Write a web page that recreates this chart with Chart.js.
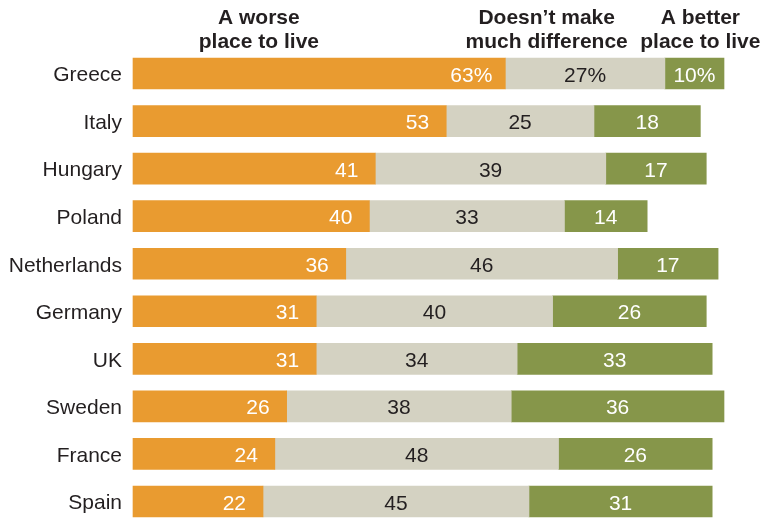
<!DOCTYPE html>
<html>
<head>
<meta charset="utf-8">
<script src="https://cdn.jsdelivr.net/npm/chart.js@4.4.1/dist/chart.umd.min.js"></script>
<style>
  body { margin: 0; background: #fff; }
  #wrap { width: 763px; height: 518px; }
</style>
</head>
<body>
<div id="wrap"><canvas id="grafico" width="763" height="518"></canvas></div>
<script>
// datos del grafico
const paises = ['Greece', 'Italy', 'Hungary', 'Poland', 'Netherlands', 'Germany', 'UK', 'Sweden', 'France', 'Spain'];
const peor = [63, 53, 41, 40, 36, 31, 31, 26, 24, 22];
const igual = [27, 25, 39, 33, 46, 40, 34, 38, 48, 45];
const mejor = [10, 18, 17, 14, 17, 26, 33, 36, 26, 31];

// encabezados de columna (lineas y posicion en la escala x)
const encabezados = [
    ['A worse', 'place to live'],
    ['Doesn\u2019t make', 'much difference'],
    ['A better', 'place to live']
];
const posEncabezados = [21.3, 70, 96];

const FUENTE = '"Liberation Sans", Arial, Helvetica, sans-serif';

// Etiquetas de valores dentro de las barras
const etiquetasBarras = {
    id: 'etiquetasBarras',
    afterDatasetsDraw(chart) {
        const ctx = chart.ctx;
        ctx.save();
        ctx.font = '21px ' + FUENTE;
        ctx.textBaseline = 'alphabetic';
        chart.data.datasets.forEach((ds, i) => {
            const meta = chart.getDatasetMeta(i);
            meta.data.forEach((bar, j) => {
                const txt = ds.data[j] + (j === 0 ? '%' : '');
                const y = bar.y + 8;
                if (i === 0) {
                    // la primera fila lleva % y queda mas pegada al borde
                    ctx.fillStyle = '#fff';
                    ctx.textAlign = 'right';
                    ctx.fillText(txt, bar.x - (j === 0 ? 13 : 17), y);
                } else {
                    ctx.fillStyle = i === 1 ? '#231f20' : '#fff';
                    ctx.textAlign = 'center';
                    ctx.fillText(txt, (bar.x + bar.base) / 2, y);
                }
            });
        });
        ctx.restore();
    }
};

// Encabezados arriba de las columnas
const encabezadosPlugin = {
    id: 'encabezados',
    afterDraw(chart) {
        const ctx = chart.ctx;
        const x = chart.scales.x;
        ctx.save();
        ctx.font = 'bold 21px ' + FUENTE;
        ctx.fillStyle = '#231f20';
        ctx.textAlign = 'center';
        ctx.textBaseline = 'alphabetic';
        encabezados.forEach((lineas, i) => {
            const px = x.getPixelForValue(posEncabezados[i]);
            lineas.forEach((l, k) => ctx.fillText(l, px, 24 + k * 24));
        });
        ctx.restore();
    }
};

new Chart(document.getElementById('grafico'), {
    type: 'bar',
    data: {
        labels: paises,
        datasets: [
            { label: 'A worse place to live', data: peor, backgroundColor: '#E99B30', clip: false },
            { label: 'Doesn\u2019t make much difference', data: igual, backgroundColor: '#D4D2C2', clip: false },
            { label: 'A better place to live', data: mejor, backgroundColor: '#86964A', clip: false }
        ]
    },
    options: {
        indexAxis: 'y',
        responsive: false,
        animation: false,
        events: [],
        barThickness: 31,
        layout: { padding: { top: 73.5, bottom: 16.5, left: 0, right: 39 } },
        plugins: {
            legend: { display: false },
            tooltip: { enabled: false }
        },
        scales: {
            x: { stacked: true, min: 0, max: 100, display: false },
            y: {
                stacked: true,
                offset: false,
                grid: { display: false, drawTicks: false },
                border: { display: false },
                ticks: { padding: 11, labelOffset: 2, color: '#231f20', font: { size: 21, family: FUENTE } },
                afterFit(scale) {
                    scale.width = 133;
                    scale.paddingTop = 0;
                    scale.paddingBottom = 0;
                }
            }
        }
    },
    plugins: [etiquetasBarras, encabezadosPlugin]
});
</script>
</body>
</html>
